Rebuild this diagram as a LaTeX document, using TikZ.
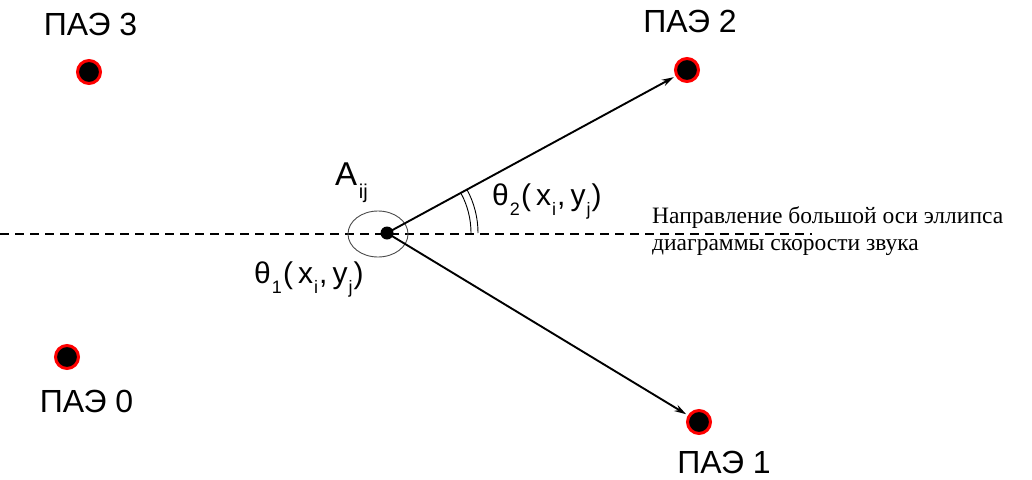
\documentclass[tikz,border=0pt]{standalone}
\usepackage{fontspec}
\setmainfont{Liberation Sans}
\newfontfamily\serifru{Liberation Serif}
\usetikzlibrary{arrows.meta}
\newcommand{\lowsub}[1]{\raisebox{-0.34em}{\fontsize{18}{18}\selectfont\hspace{0.06em}#1\hspace{0.06em}}}
\begin{document}
\begin{tikzpicture}[x=1pt,y=-1pt,
  pae/.style={circle,fill=black,draw=red,line width=3pt,minimum size=23pt,inner sep=0pt},
  lbl/.style={font=\fontsize{32}{32}\selectfont,inner sep=0pt,anchor=base},
  thlbl/.style={font=\fontsize{30}{30}\selectfont,inner sep=0pt,anchor=base west},
  dirlbl/.style={font=\serifru\fontsize{23.5}{28}\selectfont,inner sep=0pt,anchor=base west},
  ray/.style={line width=1.9pt,-{Stealth[length=12pt,width=7pt]},shorten >=2pt},
  axis/.style={line width=1.4pt,dash pattern=on 9pt off 6pt}]
\useasboundingbox (0,0) rectangle (1032,479);
\fill[white] (0,0) rectangle (1032,479);
% dots
\node[pae] (p3) at (89,72) {};
\node[pae] (p2) at (687,70) {};
\node[pae] (p0) at (67,357) {};
\node[pae] (p1) at (699,422) {};
% labels
\node[lbl] (l3) at (90.5,35) {ПАЭ 3};
\node[lbl] (l2) at (690,32) {ПАЭ 2};
\node[lbl] (l0) at (86.5,412) {ПАЭ 0};
\node[lbl] (l1) at (724,473) {ПАЭ 1};
% axis
\coordinate (axL) at (0,234);
\coordinate (axR) at (812,234);
\draw[axis] (axL) -- (axR);
% point A
\node[circle,fill=black,minimum size=13pt,inner sep=0pt] (A) at (387,233) {};
\draw[gray!60!black,line width=0.9pt] (378,234) ellipse [x radius=30,y radius=23];
\node[font=\fontsize{33}{33}\selectfont,inner sep=0pt,anchor=base west] (Alab) at (335,185) {A\raisebox{-0.42em}{\fontsize{20}{20}\selectfont\hspace{0.08em}ij}};
% rays
\draw[ray] (A.center) -- (p2);
\draw[ray] (A.center) -- (p1);
% theta2 double arc
\draw[line width=0.9pt] (387+84,233) arc[start angle=0,end angle=-28.4,radius=84];
\draw[line width=0.9pt] (387+91,233) arc[start angle=0,end angle=-28.4,radius=91];
% theta labels
\node[thlbl] (t2) at (492,205) {θ\lowsub{2}(\,x\lowsub{i},\,y\lowsub{j})};
\node[thlbl] (t1) at (254,283) {θ\lowsub{1}(\,x\lowsub{i},\,y\lowsub{j})};
% direction text
\node[dirlbl] (dir1) at (652,223) {Направление большой оси эллипса};
\node[dirlbl] (dir2) at (652,250) {диаграммы скорости звука};
\end{tikzpicture}
\end{document}
